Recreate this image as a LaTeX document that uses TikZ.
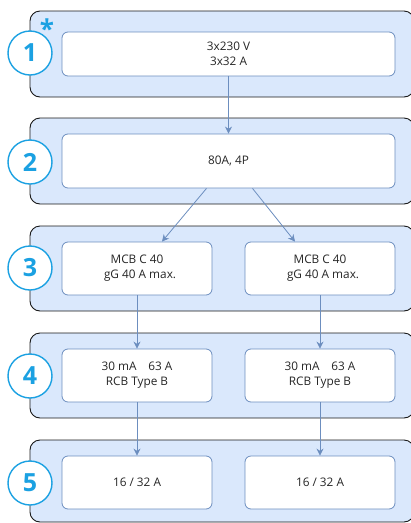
\documentclass[tikz,border=0pt]{standalone}
\usepackage{fontspec}
\setmainfont{Open Sans}
\usetikzlibrary{arrows.meta}
\definecolor{panelfill}{HTML}{DAE8FC}
\definecolor{boxline}{HTML}{6C8EBF}
\definecolor{numcyan}{HTML}{1BA1E2}
\tikzset{
  panel/.style={draw=black!90, fill=panelfill, line width=0.9pt, rounded corners=10pt},
  itembox/.style={draw=boxline, fill=white, line width=0.8pt, rounded corners=6pt, align=center, font=\fontsize{11.8}{15}\selectfont, text=black!85},
  numcirc/.style={circle, draw=numcyan, fill=white, line width=1.4pt, minimum size=44pt, inner sep=0pt, text=numcyan, font=\fontsize{25}{25}\selectfont\bfseries},
  conn/.style={draw=boxline, line width=0.8pt, -{Stealth[length=7pt,width=7pt]}},
}
\begin{document}
\begin{tikzpicture}[x=1pt,y=-1pt]
\useasboundingbox (0,0) rectangle (411,523);
% panels
\draw[panel] (30,11) rectangle (414,97);
\draw[panel] (30,118) rectangle (414,204);
\draw[panel] (30,226) rectangle (414,311);
\draw[panel] (30,333) rectangle (414,418);
\draw[panel] (30,440) rectangle (414,522);
% number circles
\node[numcirc] (c1) at (30,53) {1};
\node[numcirc] (c2) at (30,162) {2};
\node[numcirc] (c3) at (30,268) {3};
\node[numcirc] (c4) at (30,376) {4};
\node[numcirc] (c5) at (30,483) {5};
\node[text=numcyan, font=\fontsize{26}{26}\selectfont\bfseries] (star) at (47,29) {*};
% boxes
\node[itembox, minimum width=333pt, minimum height=44pt] (b1) at (228.5,54) {3x230 V\\3x32 A};
\node[itembox, minimum width=333pt, minimum height=54pt] (b2) at (228.5,161) {80A, 4P};
\node[itembox, minimum width=150pt, minimum height=53pt] (b3l) at (137,268.5) {MCB C 40\\\ \ gG 40 A max.};
\node[itembox, minimum width=150pt, minimum height=53pt] (b3r) at (320,268.5) {MCB C 40\\\ \ gG 40 A max.};
\node[itembox, minimum width=150pt, minimum height=53pt] (b4l) at (137,375.5) {30 mA\quad 63 A\\RCB Type B};
\node[itembox, minimum width=150pt, minimum height=53pt] (b4r) at (320,375.5) {30 mA\quad 63 A\\RCB Type B};
\node[itembox, minimum width=150pt, minimum height=53pt] (b5l) at (137,482.5) {16 / 32 A};
\node[itembox, minimum width=150pt, minimum height=53pt] (b5r) at (320,482.5) {16 / 32 A};
% connectors
\draw[conn] (b1.south) -- (b2.north);
\draw[conn] ([xshift=-22pt]b2.south) -- ([xshift=25pt]b3l.north);
\draw[conn] ([xshift=24pt]b2.south) -- ([xshift=-25pt]b3r.north);
\draw[conn] (b3l.south) -- (b4l.north);
\draw[conn] (b3r.south) -- (b4r.north);
\draw[conn] (b4l.south) -- (b5l.north);
\draw[conn] (b4r.south) -- (b5r.north);
\end{tikzpicture}
\end{document}
